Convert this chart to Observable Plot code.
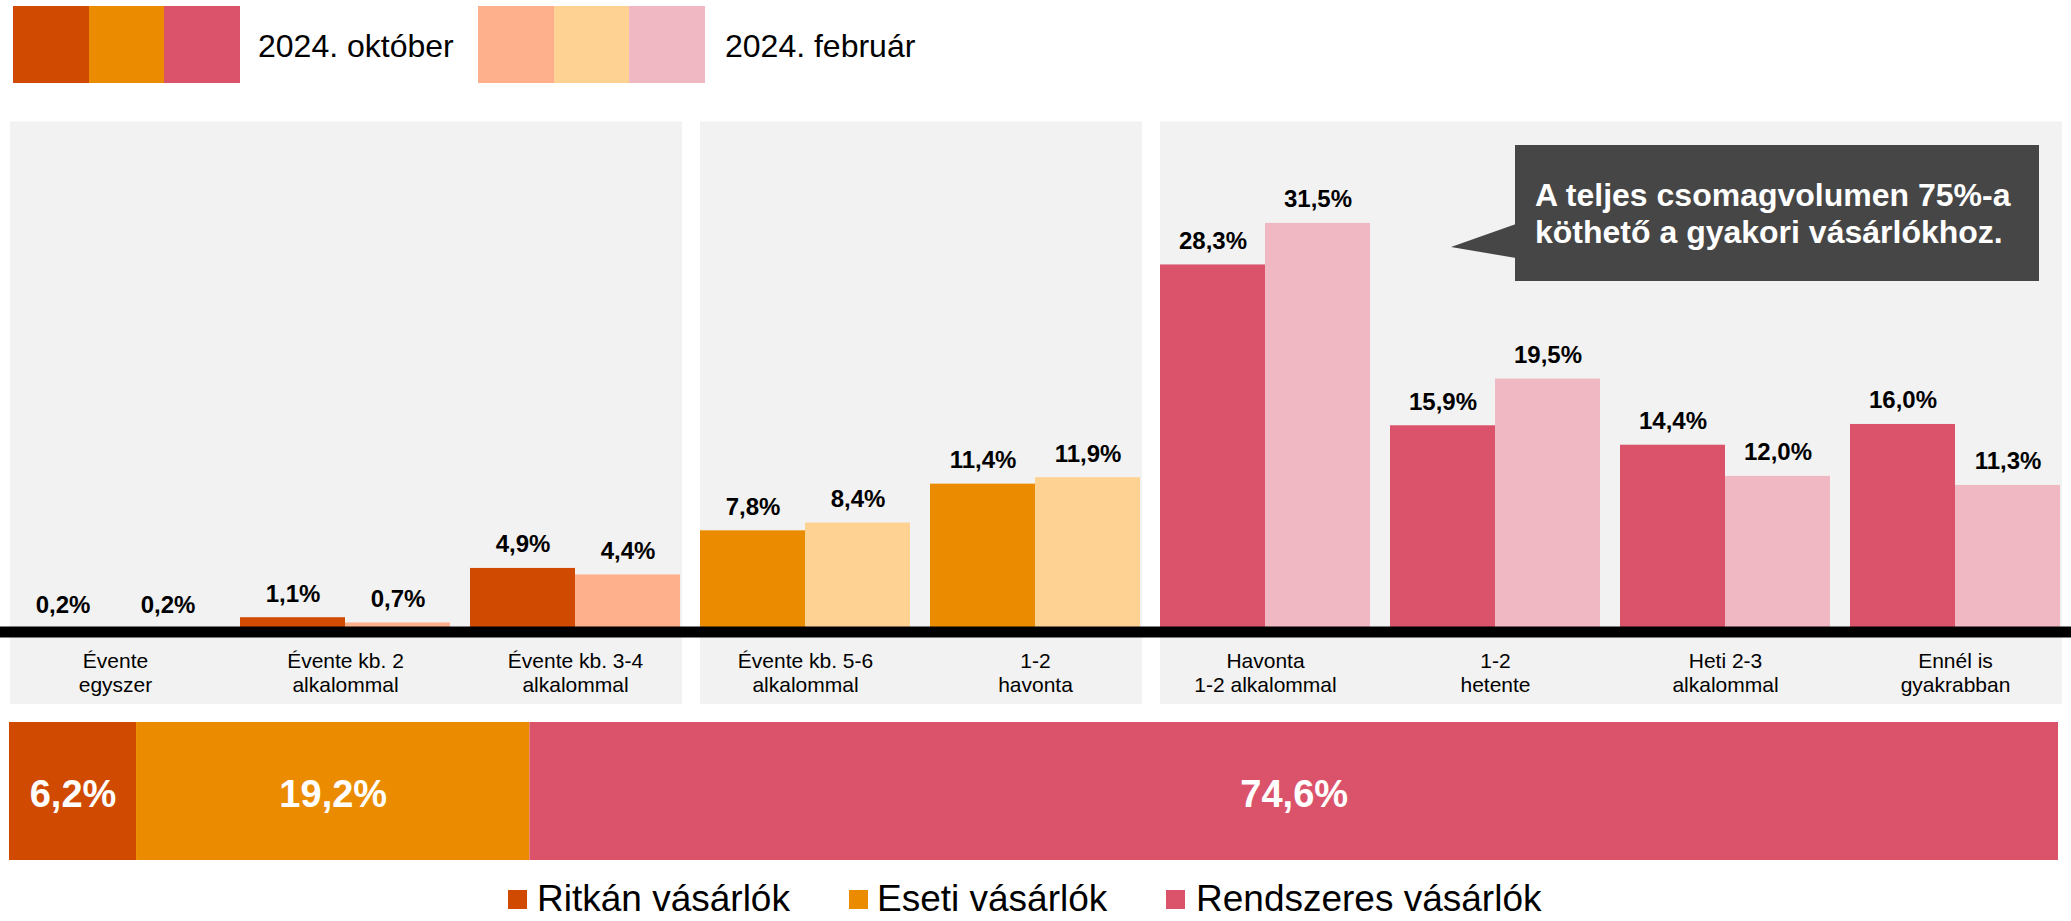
<!DOCTYPE html>
<html>
<head>
<meta charset="utf-8">
<script src="https://cdn.jsdelivr.net/npm/d3@7"></script>
<script src="https://cdn.jsdelivr.net/npm/@observablehq/plot@0.6"></script>
<style>
  html, body { margin: 0; padding: 0; background: #fff; }
  body { width: 2071px; height: 921px; overflow: hidden; position: relative;
         font-family: "Liberation Sans", Arial, sans-serif; color: #000; }
  .abs { position: absolute; }
  .sw { position: absolute; }
  .lt { position: absolute; font-size: 32px; line-height: 32px; white-space: nowrap; }
  .lb { position: absolute; font-size: 37px; line-height: 26px; white-space: nowrap; }
  #callout { position: absolute; left: 1515px; top: 145px; width: 524px; height: 136px;
             background: #464646; color: #fff; font-weight: bold; font-size: 32px;
             line-height: 37px; box-sizing: border-box; padding: 32px 0 0 20px; white-space: nowrap; }
  #pointer { position: absolute; left: 1451px; top: 224px; width: 65px; height: 34px; background: #464646;
             clip-path: polygon(100% 0, 0 23px, 100% 100%); }
</style>
</head>
<body>
<div id="legendTop"></div>
<div id="main" class="abs" style="left:0;top:100px"></div>
<div id="pointer"></div>
<div id="callout">A teljes csomagvolumen 75%-a<br>köthető a gyakori vásárlókhoz.</div>
<div id="share" class="abs" style="left:0;top:722px"></div>
<div id="legendBottom"></div>
<script>
// ---------- data ----------
const categories = [
  "Évente\negyszer",
  "Évente kb. 2\nalkalommal",
  "Évente kb. 3-4\nalkalommal",
  "Évente kb. 5-6\nalkalommal",
  "1-2\nhavonta",
  "Havonta\n1-2 alkalommal",
  "1-2\nhetente",
  "Heti 2-3\nalkalommal",
  "Ennél is\ngyakrabban"
];
const segments = ["Ritkán vásárlók", "Eseti vásárlók", "Rendszeres vásárlók"];
const categorySegment = [0, 0, 0, 1, 1, 2, 2, 2, 2];
const october = [0.2, 1.1, 4.9, 7.8, 11.4, 28.3, 15.9, 14.4, 16.0];
const february = [0.2, 0.7, 4.4, 8.4, 11.9, 31.5, 19.5, 12.0, 11.3];
const segmentShare = [6.2, 19.2, 74.6];
const periods = ["2024. október", "2024. február"];
const darkColors = ["#D04A02", "#EB8C00", "#DB536A"];
const lightColors = ["#FDB08B", "#FED293", "#F0B8C3"];

// ---------- helpers ----------
const fmt = v => d3.format(".1f")(v).replace(".", ",") + "%";
const rows = categories.map((c, i) => {
  const s = categorySegment[i];
  const prevSame = i > 0 && categorySegment[i - 1] === s;
  const nextSame = i < categories.length - 1 && categorySegment[i + 1] === s;
  return {cat: c, seg: s, oct: october[i], feb: february[i],
          pos: !prevSame ? "first" : (!nextSame ? "last" : "middle")};
});

const yDomain = [-5.59, 39.32];
const half = 105;
const FONT = "'Liberation Sans', Arial, sans-serif";

const main = Plot.plot({
  width: 2071,
  height: 620,
  marginTop: 21.5,
  marginBottom: 16,
  marginLeft: 0,
  marginRight: 0,
  style: {fontFamily: FONT, background: "transparent"},
  x: {domain: categories, range: [8, 2062], paddingInner: 0.089, paddingOuter: 0, axis: null},
  y: {domain: yDomain, axis: null},
  color: {type: "identity"},
  marks: [
    // panel backgrounds
    Plot.barY(rows.filter(d => d.pos === "first"), {x: "cat", y1: () => yDomain[0], y2: () => yDomain[1], fill: "#F2F2F2", insetLeft: 0, insetRight: -10.3}),
    Plot.barY(rows.filter(d => d.pos === "middle"), {x: "cat", y1: () => yDomain[0], y2: () => yDomain[1], fill: "#F2F2F2", insetLeft: -10.3, insetRight: -10.3}),
    Plot.barY(rows.filter(d => d.pos === "last"), {x: "cat", y1: () => yDomain[0], y2: () => yDomain[1], fill: "#F2F2F2", insetLeft: -10.3, insetRight: -2}),
    // bars
    Plot.barY(rows, {x: "cat", y1: () => 0, y2: "oct", fill: d => darkColors[d.seg], insetLeft: 0, insetRight: half}),
    Plot.barY(rows, {x: "cat", y1: () => 0, y2: "feb", fill: d => lightColors[d.seg], insetLeft: half, insetRight: 0}),
    // baseline
    Plot.ruleY([0], {stroke: "#000", strokeWidth: 11}),
    // value labels
    Plot.text(rows, {x: "cat", y: "oct", text: d => fmt(d.oct), dx: -half / 2, dy: -16, lineAnchor: "bottom",
                     fontSize: 24, fontWeight: "bold", fill: "#000"}),
    Plot.text(rows, {x: "cat", y: "feb", text: d => fmt(d.feb), dx: half / 2, dy: -16, lineAnchor: "bottom",
                     fontSize: 24, fontWeight: "bold", fill: "#000"}),
    // category labels
    Plot.text(rows, {x: "cat", y: () => 0, text: "cat", lineAnchor: "top", dy: 18.6, fontSize: 21,
                     lineHeight: 1.143, fill: "#000"})
  ]
});
document.getElementById("main").appendChild(main);

// ---------- share bar ----------
const shares = segments.map((s, i) => ({seg: i, name: s, value: segmentShare[i]}));
const share = Plot.plot({
  width: 2071,
  height: 138,
  margin: 0,
  style: {fontFamily: FONT, background: "transparent"},
  x: {domain: [0, 100], range: [9, 2058], axis: null},
  color: {type: "identity"},
  marks: [
    Plot.barX(shares, {x: "value", fill: d => darkColors[d.seg]}),
    Plot.text(shares, Plot.stackX({x: "value", text: d => fmt(d.value), fill: "#fff",
                     fontWeight: "bold", fontSize: 38, dy: 3}))
  ]
});
document.getElementById("share").appendChild(share);

// ---------- top legend ----------
const lt = document.getElementById("legendTop");
const groupLeft = [13, 478];
const textLeft = [258, 725];
[darkColors, lightColors].forEach((cols, g) => {
  cols.forEach((c, i) => {
    const d = document.createElement("div");
    d.className = "sw";
    d.style.cssText = `left:${groupLeft[g] + i * 75.7}px;top:6px;width:76px;height:77px;background:${c}`;
    lt.appendChild(d);
  });
  const t = document.createElement("div");
  t.className = "lt";
  t.style.left = textLeft[g] + "px";
  t.style.top = "30px";
  t.textContent = periods[g];
  lt.appendChild(t);
});

// ---------- bottom legend ----------
const lb = document.getElementById("legendBottom");
const swLeft = [508, 849, 1166];
const txLeft = [537, 877, 1196];
segments.forEach((s, i) => {
  const d = document.createElement("div");
  d.className = "sw";
  d.style.cssText = `left:${swLeft[i]}px;top:890px;width:19px;height:19px;background:${darkColors[i]}`;
  lb.appendChild(d);
  const t = document.createElement("div");
  t.className = "lb";
  t.style.left = txLeft[i] + "px";
  t.style.top = "886px";
  t.textContent = s;
  lb.appendChild(t);
});
</script>
</body>
</html>
